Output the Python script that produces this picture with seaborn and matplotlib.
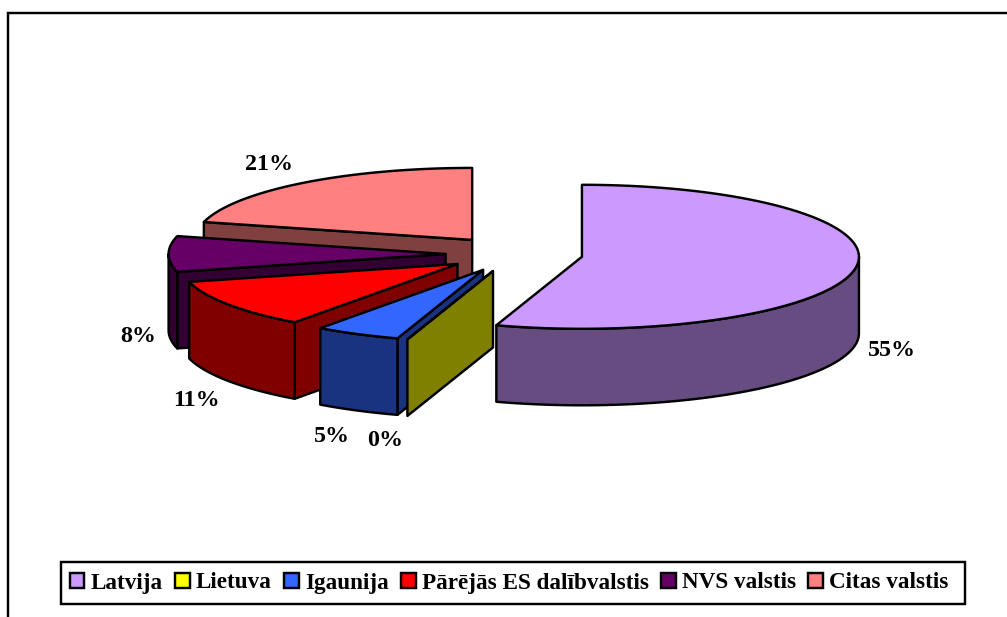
import numpy as np
import matplotlib
matplotlib.use("Agg")
import matplotlib.pyplot as plt
from matplotlib.patches import Polygon, Patch, Rectangle
import seaborn as sns

categories = ["Latvija", "Lietuva", "Igaunija", "Pārējās ES dalībvalstis", "NVS valstis", "Citas valstis"]
shares = [55, 0, 5, 11, 8, 21]
top_colors = ["#CC99FF", "#FFFF00", "#3366FF", "#FF0000", "#660066", "#FF8080"]
side_colors = ["#664C80", "#808000", "#1A3380", "#800000", "#330033", "#804040"]
label_xy = [(892, 351), (385, 440), (332, 436), (196, 400), (138, 336), (269, 165)]

CX, CY, RX, RY, DEPTH, EXPLODE = 514.2, 254.0, 277.0, 72.0, 76.5, 0.2476

sns.set_theme(style="white")
plt.rcParams["font.family"] = ["Liberation Serif", "DejaVu Serif"]
plt.rcParams["font.weight"] = "bold"

fig = plt.figure(figsize=(10.07, 6.17), dpi=100)
ax = fig.add_axes([0, 0, 1, 1])
ax.set_xlim(0, 1007)
ax.set_ylim(617, 0)
ax.axis("off")

LW = 1.75
ax.plot([7.5, 7.5, 1007], [617, 13, 13], color="black", lw=LW, solid_joinstyle="miter")


def rim(c, a):
    t = np.radians(a)
    return np.column_stack([c[0] + RX * np.sin(t), c[1] - RY * np.cos(t)])


def poly(pts, color, z):
    ax.add_patch(Polygon(pts, closed=True, facecolor=color, edgecolor="black",
                         lw=LW, joinstyle="round", zorder=z))


edges = np.cumsum([0] + shares) * 3.6
down = np.array([0, DEPTH])
for z, i in enumerate([5, 4, 3, 2, 1, 0]):
    a0, a1 = edges[i], edges[i + 1]
    mid = np.radians((a0 + a1) / 2)
    c = np.array([CX + EXPLODE * RX * np.sin(mid), CY - EXPLODE * RY * np.cos(mid)])
    # cut face at the starting edge, turned to the viewer
    if 180 <= a0 < 360:
        p = rim(c, a0)[0]
        poly([c, p, p + down, c + down], side_colors[i], z * 3 + 1)
    # outer wall on the front half
    w0, w1 = max(a0, 90), min(a1, 270)
    if w1 > w0:
        arc = rim(c, np.linspace(w0, w1, 80))
        poly(np.vstack([arc, (arc + down)[::-1]]), side_colors[i], z * 3 + 2)
    # top face
    arc = rim(c, np.linspace(a0, a1, 160))
    poly(np.vstack([c, arc]), top_colors[i], z * 3 + 3)

for s, (x, y) in zip(shares, label_xy):
    ax.text(x, y, f"{s}%", ha="center", va="center", fontsize=17.3, fontweight="bold",
            color="black", zorder=40)

ax.add_patch(Rectangle((60.5, 562), 904, 42, facecolor="white", edgecolor="black",
                       lw=LW, zorder=49))
handles = [Patch(facecolor=t, edgecolor="black", lw=LW) for t in top_colors]
leg = ax.legend(handles, categories, ncol=6, loc="center left", bbox_to_anchor=(60.5, 583),
                bbox_transform=ax.transData, frameon=False, fontsize=16.7, labelcolor="black",
                handlelength=0.64, handleheight=0.64, handletextpad=0.26, columnspacing=0.53,
                borderpad=0.39, borderaxespad=0)
leg.set_zorder(50)

fig.savefig("out.png", dpi=100, facecolor="white")
